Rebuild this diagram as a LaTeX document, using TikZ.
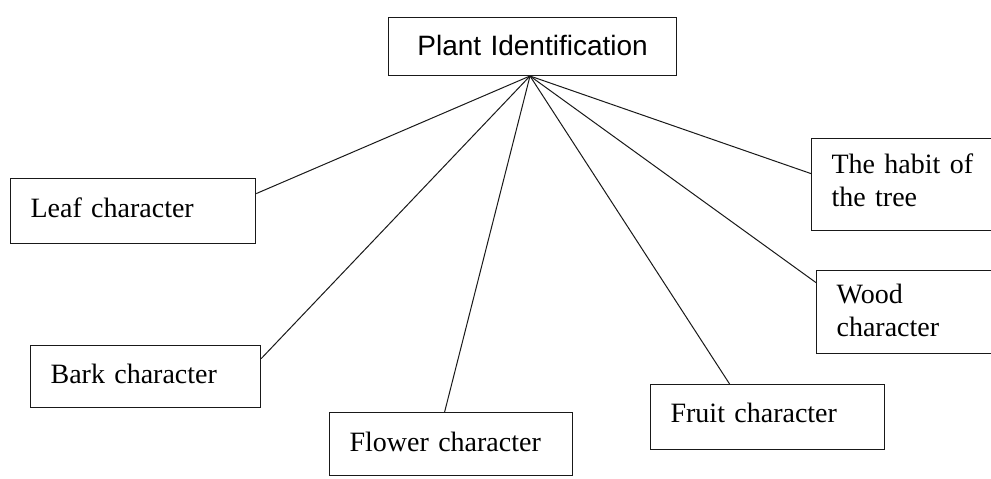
\documentclass[tikz,border=0pt]{standalone}
\usepackage{fontspec}
\setmainfont{Liberation Serif}
\newfontfamily\arialfont{Liberation Sans}
\begin{document}
\begin{tikzpicture}[x=1pt,y=-1pt,
  box/.style={draw=black!90, line width=1.2pt, rectangle, inner ysep=0pt, inner xsep=20pt,
    align=left, anchor=north west, font=\fontsize{28}{33}\selectfont},
  link/.style={draw=black!90, line width=1pt}]
\useasboundingbox (0,0) rectangle (991,479);
\fill[white] (0,0) rectangle (991,479);
% root
\node[box, align=center, text width=248pt, text height=38pt, text depth=20pt,
  font=\arialfont\fontsize{28}{33}\selectfont] (plant) at (388,17) {Plant Identification};
\coordinate (hub) at (530,76);
% children
\node[box, text width=205pt, text height=39pt, text depth=26pt] (leaf) at (10,178) {Leaf character};
\node[box, text width=190pt, text height=38pt, text depth=24pt] (bark) at (30,345) {Bark character};
\node[box, text width=203pt, text height=39pt, text depth=24pt] (flower) at (329,412) {Flower character};
\node[box, text width=194pt, text height=38pt, text depth=27pt] (fruit) at (650,384) {Fruit character};
\node[box, text width=170pt, text height=35pt, text depth=57pt] (habit) at (811,138) {The habit of\\the tree};
\node[box, text width=160pt, text height=33pt, text depth=50pt] (wood) at (816,270) {Wood\\character};
% connectors
\draw[link] (hub) -- ([yshift=17.5pt]leaf.east);
\draw[link] (hub) -- ([yshift=18pt]bark.east);
\draw[link] (hub) -- ([xshift=-6.5pt]flower.north);
\draw[link] (hub) -- ([xshift=-38pt]fruit.north);
\draw[link] (hub) -- ([yshift=29.5pt]wood.west);
\draw[link] (hub) -- ([yshift=11pt]habit.west);
\end{tikzpicture}
\end{document}
